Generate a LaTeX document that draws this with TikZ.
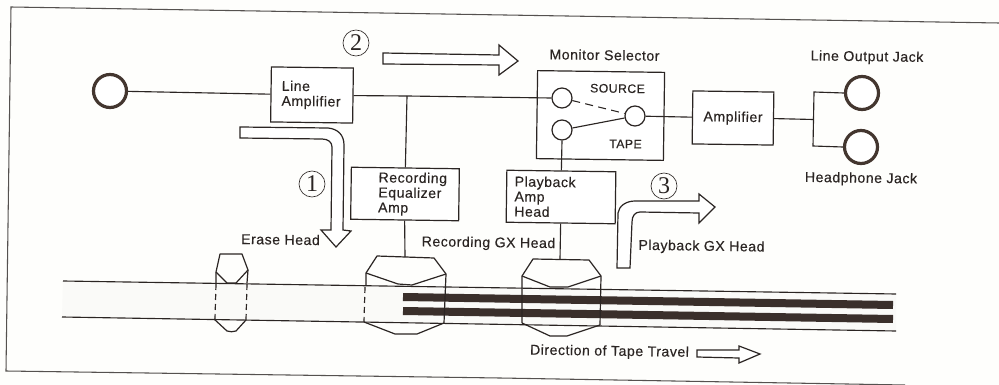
\documentclass[tikz,border=0pt]{standalone}
\usepackage{fontspec}
\setmainfont[LetterSpace=3.6,FakeBold=0.25]{Liberation Sans}
\newfontfamily\numfont{Liberation Serif}
\def\pxu{0.75pt}
\definecolor{ink}{HTML}{2B2523}
\definecolor{paper}{HTML}{FEFEFC}
\definecolor{band}{HTML}{FAFAF8}
\definecolor{barc}{HTML}{3A2F2B}
\definecolor{jackc}{HTML}{43362F}
\tikzset{
  wire/.style={draw=ink,line width=0.85pt},
  outline/.style={draw=ink,line width=0.9pt,line join=round},
  hollow/.style={draw=ink,line width=0.9pt,line join=miter,fill=white},
  hid/.style={draw=ink,line width=0.9pt,dash pattern=on 4.5pt off 3pt},
  lbl/.style={text=ink,inner sep=0pt,rotate=-0.8,font=\fontsize{10.6}{11.25}\selectfont},
  smalllbl/.style={lbl,font=\fontsize{9.2}{11}\selectfont},
  boxed/.style={draw=ink,line width=0.9pt,fill=white,rotate=-0.8,text=ink,align=left,inner ysep=0pt,
    font=\fontsize{10.6}{11.25}\selectfont},
  jack/.style={circle,draw=jackc,line width=2.4pt,inner sep=0pt,minimum size=33*\pxu,fill=white},
  port/.style={circle,draw=ink,line width=0.9pt,inner sep=0pt,minimum size=20*\pxu,fill=white},
  num/.style={circle,draw=ink,line width=0.5pt,inner sep=0pt,minimum size=26*\pxu,text=ink,
    font=\numfont\fontsize{18}{18}\selectfont},
  bar/.style={draw=barc,line width=6pt}
}
\begin{document}
\begin{tikzpicture}[x=0.75pt,y=-0.75pt]
\useasboundingbox (0,0) rectangle (999,385);
\fill[paper] (0,0) rectangle (999,385);
% frame
\draw[draw=ink!80,line width=0.8pt] (999,23) -- (11,7) -- (6,371) -- (500,378) -- (905,385);
% tape band
\fill[band] (63,281) -- (896,294) -- (896,331) -- (62,317) -- cycle;
\draw[wire] (63,281) -- (896,294);
\draw[wire] (62,317) -- (896,331);
% bars
\draw[bar] (403,297) -- (893,305);
\draw[bar] (403,311) -- (893,319);
% heads
\coordinate (erasetop) at (231,254);
\draw[outline] (216,283) -- (216,272) -- (220,254) -- (242,254) -- (248,270) -- (247,283);
\draw[outline] (216,272) -- (227,283) -- (236,283) -- (248,270);
\draw[hid] (216,284) -- (215,319);
\draw[hid] (247,284) -- (246,320);
\draw[outline] (214,319) -- (227,331) .. controls (230,332) and (233,332) .. (236,331) -- (246,320);
\coordinate (rectop) at (405,257);
\draw[outline] (366,285) -- (366,273) -- (377,256) -- (434,258) -- (446,274) -- (444,323);
\draw[outline] (366,273) -- (398,284) -- (412,285) -- (446,274);
\draw[hid] (365,287) -- (364,322);
\draw[outline] (364,322) -- (395,334) -- (417,334) -- (444,323);
\coordinate (playtop) at (560,259);
\draw[outline] (522,323) -- (522,276) -- (533,259) -- (589,260) -- (601,276) -- (600,325);
\draw[outline] (522,276) -- (550,287) -- (568,287) -- (601,276);
\draw[outline] (522,323) -- (550,336) -- (567,336) -- (600,325);
% boxes
\node[boxed,minimum width=82*\pxu,minimum height=55*\pxu,text width=66*\pxu,inner xsep=8*\pxu] (lineamp) at (312,95) {\hspace*{2pt}Line\\\hspace*{2pt}Amplifier};
\node[boxed,minimum width=108*\pxu,minimum height=52*\pxu,text width=96*\pxu,inner xsep=6*\pxu] (receq) at (405,194) {\hspace*{16pt}Recording\\\hspace*{16pt}Equalizer\\\hspace*{16pt}Amp};
\node[boxed,minimum width=109*\pxu,minimum height=52*\pxu,text width=93*\pxu,inner xsep=8*\pxu] (playamp) at (561,197) {Playback\\Amp\\Head};
\node[boxed,minimum width=127*\pxu,minimum height=88*\pxu] (monitor) at (600.5,115.5) {};
\node[boxed,minimum width=81*\pxu,minimum height=53*\pxu,align=center] (amp) at (733,118) {Amplifier};
% ports and jacks
\node[jack] (jin) at (110,91) {};
\node[jack] (jline) at (862,93) {};
\node[jack] (jhead) at (861,147) {};
\node[port] (psource) at (562,98) {};
\node[port] (ptape) at (562,130) {};
\node[port] (pout) at (635,116) {};
% wires
\coordinate (tee) at (407,96);
\coordinate (fork) at (813.5,119.5);
\draw[wire] (jin) -- (lineamp);
\draw[wire] (lineamp.east) -- (tee) -- (psource.west);
\draw[wire] (tee) -- (receq.north);
\draw[wire] (receq.south) -- (rectop);
\draw[wire] (ptape.south) -- (playamp.north);
\draw[wire] (playamp.south) -- (playtop);
\draw[wire] (pout) -- (amp);
\draw[wire] (amp.east) -- (fork);
\draw[wire] (jline.west) -- (814,92) -- (fork) -- (813,146) -- (jhead.west);
\draw[draw=ink,line width=0.8pt,dash pattern=on 6pt off 4pt] (psource) -- (pout);
\draw[wire] (ptape) -- (pout);
% hollow arrows
\draw[hollow] (240,127) -- (328,128) .. controls (338,129) and (344,135) .. (344,145) -- (343,230) -- (351,231) -- (336,247) -- (321,230) -- (331,230) -- (332,147) .. controls (332,142) and (328,139) .. (322,139) -- (240,138) -- cycle;
\draw[hollow] (383,53) -- (499,55) -- (499,45) -- (518,61) -- (499,75) -- (499,65) -- (383,64) -- cycle;
\draw[hollow] (617,268) -- (618,213) .. controls (619,206) and (626,201) .. (635,201) -- (699,201) -- (699,194) -- (715,207) -- (699,223) -- (699,213) -- (640,212) .. controls (635,212) and (632,216) .. (632,222) -- (630,268) -- cycle;
\draw[hollow] (697,350) -- (739,350) -- (739,346) -- (760,354) -- (739,363) -- (739,358) -- (697,357) -- cycle;
% numbers
\node[num] (n1) at (312,184) {1};
\node[num] (n2) at (356,43) {2};
\node[num] (n3) at (664,186) {3};
% labels
\node[lbl] (l1) at (280.5,239.5) {Erase Head};
\node[lbl] (l2) at (488.5,243.5) {Recording GX Head};
\node[lbl] (l3) at (701.5,247) {Playback GX Head};
\node[lbl] (l4) at (604.5,55) {Monitor Selector};
\node[lbl] (l5) at (867,57.5) {Line Output Jack};
\node[lbl] (l6) at (861,179) {Headphone Jack};
\node[smalllbl] (l7) at (617.5,88.5) {SOURCE};
\node[smalllbl] (l8) at (625.5,144) {TAPE};
\node[lbl] (l9) at (609.5,352) {Direction of Tape Travel};
\end{tikzpicture}
\end{document}
